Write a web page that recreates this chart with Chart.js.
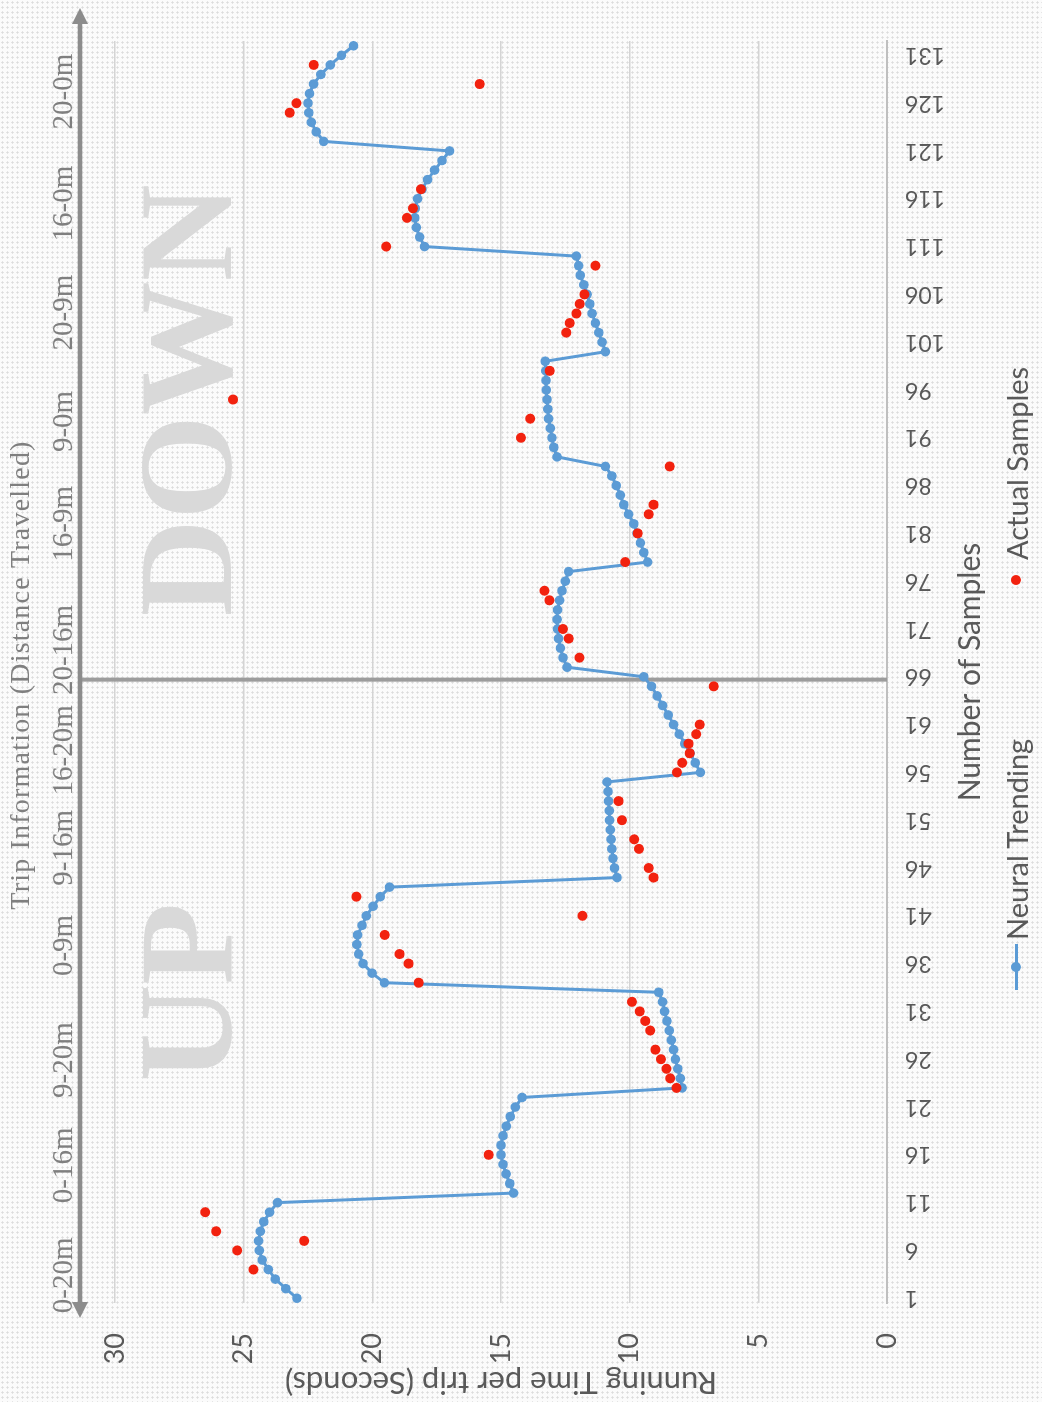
<!DOCTYPE html>
<html lang="en">
<head>
<meta charset="UTF-8">
<title>Running Time per Trip</title>
<script src="https://cdn.jsdelivr.net/npm/chart.js@4.4.1/dist/chart.umd.min.js"></script>
<style>
  html, body { margin: 0; padding: 0; }
  body {
    width: 1042px; height: 1402px; overflow: hidden;
    background-color: #fbfbfb;
    background-image: radial-gradient(circle, #dcdcdc 0.9px, transparent 1.3px);
    background-size: 5px 5px;
  }
  /* the whole figure is laid out landscape, then turned a quarter turn */
  .stage {
    position: absolute; left: 0; top: 0;
    width: 1402px; height: 1042px;
    transform-origin: 0 0;
    transform: translate(0, 1402px) rotate(-90deg);
    font-family: Lato, "Open Sans", sans-serif;
  }
  .legend-item {
    position: absolute; top: 998px; height: 36px;
    display: flex; align-items: center;
    font-size: 29px; color: #595959; white-space: nowrap;
  }
  .mk-line { width: 46px; height: 3px; background: #5b9bd5; position: relative; margin-right: 4px; }
  .mk-line::after {
    content: ''; position: absolute; left: 18px; top: -3.5px;
    width: 10px; height: 10px; border-radius: 50%; background: #5b9bd5;
  }
  .mk-dot { width: 10px; height: 10px; border-radius: 50%; background: #f2220f; margin-right: 15px; }
</style>
</head>
<body>
<div class="stage">
  <canvas id="chart" width="1402" height="1042"></canvas>
  <div class="legend-item" style="left:412px"><span class="mk-line"></span>Neural Trending</div>
  <div class="legend-item" style="left:817px"><span class="mk-dot"></span>Actual Samples</div>
</div>

<script>
  // sample numbers on the category axis
  const sampleLabels = Array.from({ length: 132 }, (_, i) => String(i + 1));

  // neural network trend, one value per sample (seconds)
  const neuralValues = [
    22.93, 23.36, 23.77, 24.04, 24.28, 24.39, 24.42, 24.35, 24.22, 23.99, 23.68,
    14.51, 14.66, 14.80, 14.92, 15.00, 15.00, 14.92, 14.79, 14.64, 14.44, 14.18,
    7.96, 8.03, 8.13, 8.22, 8.29, 8.38, 8.46, 8.55, 8.64, 8.72, 8.87,
    19.53, 20.01, 20.36, 20.53, 20.60, 20.57, 20.40, 20.23, 19.97, 19.69, 19.33,
    10.49, 10.59, 10.65, 10.69, 10.72, 10.75, 10.78, 10.79, 10.82, 10.84, 10.88,
    7.25, 7.45, 7.65, 7.86, 8.07, 8.29, 8.50, 8.72, 8.93, 9.15, 9.45,
    12.43, 12.59, 12.69, 12.76, 12.80, 12.82, 12.80, 12.72, 12.63, 12.50, 12.37,
    9.30, 9.45, 9.58, 9.71, 9.84, 10.04, 10.23, 10.36, 10.52, 10.69, 10.94,
    12.82, 12.95, 13.02, 13.08, 13.15, 13.18, 13.21, 13.24, 13.25, 13.26, 13.28,
    10.94, 11.07, 11.20, 11.33, 11.46, 11.55, 11.65, 11.78, 11.92, 11.98, 12.07,
    17.97, 18.16, 18.29, 18.35, 18.33, 18.24, 18.07, 17.85, 17.58, 17.29, 17.00,
    21.89, 22.18, 22.37, 22.47, 22.50, 22.44, 22.28, 22.00, 21.63, 21.20, 20.73
  ];

  // measured samples: which sample, and its running time
  const actualSamples = [
    4, 6, 7, 8, 10, 16,
    23, 24, 25, 26, 27, 29, 30, 31, 32,
    34, 36, 37, 39, 41, 43,
    45, 46, 48, 49, 51, 53,
    56, 57, 58, 59, 60, 61, 65,
    68, 70, 71, 74, 75,
    78, 81, 83, 84, 88,
    91, 93, 95, 98,
    102, 103, 104, 105, 106, 109,
    111, 114, 115, 117,
    125, 126, 128, 130
  ];
  const actualValues = [
    24.62, 25.25, 22.65, 26.07, 26.49, 15.48,
    8.18, 8.42, 8.57, 8.78, 9.00, 9.20, 9.39, 9.61, 9.91,
    18.20, 18.59, 18.94, 19.52, 11.83, 20.62,
    9.07, 9.26, 9.64, 9.82, 10.30, 10.43,
    8.16, 7.96, 7.67, 7.71, 7.41, 7.28, 6.73,
    11.95, 12.37, 12.59, 13.12, 13.31,
    10.17, 9.69, 9.26, 9.07, 8.44,
    14.22, 13.86, 25.41, 13.11,
    12.46, 12.33, 12.07, 11.94, 11.76, 11.33,
    19.46, 18.65, 18.42, 18.11,
    23.21, 22.95, 15.83, 22.28
  ];

  const valueTicks = [0, 5, 10, 15, 20, 25, 30];

  // trip annotations: text and the sample it sits over
  const tripSegments = ['0-20m', '0-16m', '9-20m', '0-9m', '9-16m', '16-20m',
                        '20-16m', '16-9m', '9-0m', '20-9m', '16-0m', '20-0m'];
  const tripSegmentAt = [3.4, 14.9, 25.9, 37.9, 48.1, 58.3, 68.8, 82.0, 92.7, 104.1, 115.5, 127.2];
  const directionText = ['UP', 'DOWN'];
  const directionAt = [33.0, 94.9];
  const upDownSplit = 65.7;

  const actualPoints = actualSamples.map((s, i) => ({ x: String(s), y: actualValues[i] }));

  const overlay = {
    id: 'overlay',
    beforeDatasetsDraw(chart) {
      const { ctx, chartArea, scales: { x } } = chart;
      const px = s => x.getPixelForValue(s - 1);
      ctx.save();
      ctx.font = 'bold 134px "Liberation Serif"';
      ctx.fillStyle = '#d9d9d9';
      ctx.textAlign = 'center';
      ctx.textBaseline = 'alphabetic';
      directionText.forEach((t, i) => ctx.fillText(t, px(directionAt[i]), 231));

      ctx.strokeStyle = '#9c9c9c';
      ctx.lineWidth = 4;
      ctx.beginPath();
      ctx.moveTo(px(upDownSplit), 80);
      ctx.lineTo(px(upDownSplit), chartArea.bottom);
      ctx.stroke();
      ctx.restore();
    },
    afterDraw(chart) {
      const { ctx, chartArea, scales: { x } } = chart;
      const px = s => x.getPixelForValue(s - 1);
      ctx.save();
      // double headed arrow along the trips
      const ay = 80, x0 = 84, x1 = 1394;
      ctx.strokeStyle = '#8c8c8c';
      ctx.fillStyle = '#8c8c8c';
      ctx.lineWidth = 4.5;
      ctx.beginPath();
      ctx.moveTo(x0 + 12, ay);
      ctx.lineTo(x1 - 12, ay);
      ctx.stroke();
      ctx.beginPath();
      ctx.moveTo(x1, ay); ctx.lineTo(x1 - 16, ay - 8); ctx.lineTo(x1 - 16, ay + 8); ctx.closePath();
      ctx.moveTo(x0, ay); ctx.lineTo(x0 + 16, ay - 8); ctx.lineTo(x0 + 16, ay + 8); ctx.closePath();
      ctx.fill();

      ctx.fillStyle = '#7f7f7f';
      ctx.textAlign = 'center';
      ctx.textBaseline = 'alphabetic';
      ctx.font = '29px "Liberation Serif"';
      tripSegments.forEach((t, i) => ctx.fillText(t, px(tripSegmentAt[i]), 72));

      ctx.font = '28px "Liberation Serif"';
      ctx.letterSpacing = '1.2px';
      ctx.fillText('Trip Information (Distance Travelled)', (chartArea.left + chartArea.right) / 2 - 3, 29);
      ctx.restore();
    }
  };

  new Chart(document.getElementById('chart'), {
    type: 'line',
    data: {
      labels: sampleLabels,
      datasets: [
        {
          label: 'Actual Samples',
          data: actualPoints,
          showLine: false,
          pointRadius: 5,
          pointBorderWidth: 0,
          pointBackgroundColor: '#f2220f',
          borderColor: '#f2220f'
        },
        {
          label: 'Neural Trending',
          data: neuralValues,
          borderColor: '#5b9bd5',
          borderWidth: 3,
          pointRadius: 4.8,
          pointBorderWidth: 0,
          pointBackgroundColor: '#5b9bd5',
          tension: 0
        }
      ]
    },
    options: {
      responsive: false,
      devicePixelRatio: 1,
      animation: false,
      layout: { padding: { left: 0, right: 41, top: 115, bottom: 0 } },
      plugins: {
        legend: { display: false },
        tooltip: { enabled: false }
      },
      scales: {
        x: {
          type: 'category',
          offset: true,
          grid: { display: false, drawTicks: false },
          border: { display: true, color: '#bfbfbf', width: 2 },
          ticks: {
            autoSkip: false,
            minRotation: 90,
            maxRotation: 90,
            padding: 18,
            color: '#595959',
            font: { family: 'Lato', size: 23 },
            callback(value, index) {
              return index % 5 === 0 ? this.getLabelForValue(value) : '';
            }
          },
          title: {
            display: true,
            text: 'Number of Samples',
            color: '#595959',
            font: { family: 'Lato', size: 30 },
            padding: { top: 0, bottom: 54 }
          },
          afterFit(scale) { scale.height = 155; }
        },
        y: {
          min: 0,
          max: 30,
          afterBuildTicks(scale) { scale.ticks = valueTicks.map(v => ({ value: v })); },
          grid: { color: '#d4d4d4', lineWidth: 1.5, drawTicks: false },
          border: { display: false },
          ticks: {
            padding: 30,
            color: '#595959',
            font: { family: 'Lato', size: 27 }
          },
          title: {
            display: true,
            text: 'Running Time per trip (Seconds)',
            color: '#595959',
            font: { family: 'Lato', size: 31 },
            padding: { top: 1, bottom: 0 }
          },
          afterFit(scale) { scale.width = 99; }
        }
      }
    },
    plugins: [overlay]
  });
</script>
</body>
</html>
